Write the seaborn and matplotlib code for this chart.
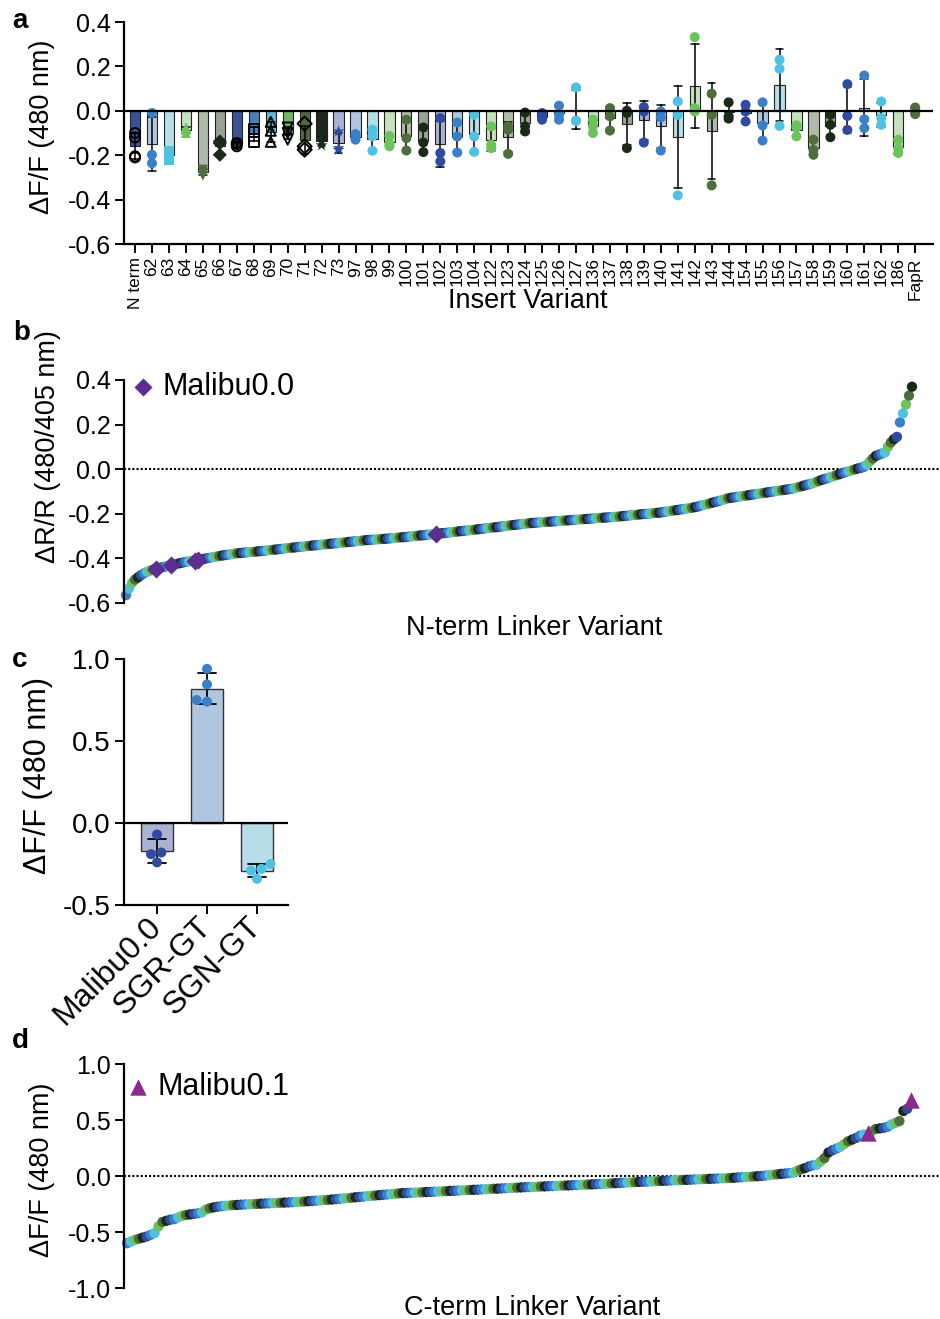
import warnings
import numpy as np
import pandas as pd
import matplotlib.pyplot as plt
from matplotlib.ticker import FormatStrFormatter
import seaborn as sns

warnings.filterwarnings("ignore")

# ---------------------------------------------------------------- data

# panel a: insertion site screen, 3 replicates each (N term has a 4th)
variants = ["N term", "62", "63", "64", "65", "66", "67", "68", "69", "70",
            "71", "72", "73", "97", "98", "99", "100", "101", "102", "103",
            "104", "122", "123", "124", "125", "126", "127", "136", "137",
            "138", "139", "140", "141", "142", "143", "144", "154", "155",
            "156", "157", "158", "159", "160", "161", "162", "186", "FapR"]
rep1 = [-0.10, -0.01, -0.18, -0.075, -0.265, -0.138, -0.145, -0.08, -0.05, -0.075,
        -0.058, -0.11, -0.093, -0.105, -0.085, -0.113, -0.04, -0.075, -0.033, -0.053,
        -0.018, -0.07, -0.07, -0.008, -0.01, 0.023, 0.105, -0.04, 0.012,
        0.0, 0.017, -0.003, 0.042, 0.332, 0.077, 0.038, 0.027, 0.038,
        0.23, -0.065, -0.13, -0.018, 0.12, 0.159, 0.042, -0.13, 0.015]
rep2 = [-0.12, -0.198, -0.20, -0.085, -0.275, -0.146, -0.15, -0.095, -0.09, -0.10,
        -0.16, -0.14, -0.168, -0.115, -0.115, -0.149, -0.123, -0.143, -0.19, -0.116,
        -0.116, -0.153, -0.085, -0.07, -0.028, -0.018, -0.045, -0.07, -0.025,
        -0.01, -0.003, -0.03, -0.018, 0.012, -0.018, -0.025, -0.003, -0.066,
        0.189, -0.075, -0.176, -0.063, -0.023, -0.038, -0.033, -0.17, 0.0]
rep3 = [-0.205, -0.236, -0.22, -0.10, -0.292, -0.198, -0.16, -0.14, -0.14, -0.13,
        -0.175, -0.155, -0.176, -0.13, -0.18, -0.16, -0.179, -0.186, -0.228, -0.188,
        -0.185, -0.168, -0.194, -0.093, -0.04, -0.04, -0.045, -0.10, -0.089,
        -0.168, -0.143, -0.179, -0.381, -0.003, -0.336, -0.035, -0.048, -0.134,
        -0.068, -0.115, -0.198, -0.119, -0.086, -0.078, -0.063, -0.19, -0.015]
extra_variants = ["N term"]
extra_values = [-0.21]

# panel b: N-term linker library, ratio response
nterm_variants = [
    -0.565, -0.535, -0.51, -0.495, -0.485, -0.475, -0.467, -0.46, -0.455, -0.45,
    -0.443, -0.44, -0.437, -0.433,
    -0.427, -0.424, -0.421, -0.418, -0.415, -0.413, -0.411,
    -0.405, -0.402, -0.399, -0.397, -0.394, -0.392, -0.389, -0.387, -0.385, -0.383, -0.381,
    -0.378, -0.377, -0.376, -0.374, -0.373, -0.372, -0.371, -0.37, -0.368, -0.367, -0.366, -0.364,
    -0.363, -0.361, -0.36, -0.358, -0.357, -0.355, -0.354, -0.352, -0.351, -0.349, -0.348,
    -0.347, -0.345, -0.344, -0.342, -0.341, -0.34, -0.338, -0.337, -0.336, -0.334, -0.333,
    -0.332, -0.33, -0.329, -0.328, -0.326, -0.325, -0.323, -0.322, -0.321, -0.319, -0.318,
    -0.317, -0.316, -0.315, -0.314, -0.313, -0.312, -0.311, -0.31, -0.309, -0.307, -0.306,
    -0.305, -0.304, -0.302, -0.301, -0.3, -0.298, -0.297, -0.296, -0.294, -0.293, -0.292,
    -0.289, -0.287, -0.286, -0.284, -0.283, -0.281, -0.28, -0.278, -0.277, -0.275, -0.274,
    -0.272, -0.271, -0.269, -0.268,
    -0.266, -0.264, -0.263, -0.261, -0.26, -0.258, -0.256, -0.255, -0.253, -0.251, -0.25,
    -0.248, -0.247, -0.245, -0.244, -0.242,
    -0.241, -0.24, -0.239, -0.238, -0.237, -0.236, -0.235, -0.234, -0.233, -0.232, -0.231,
    -0.23, -0.229, -0.228, -0.227, -0.226, -0.225, -0.224, -0.223, -0.222, -0.221, -0.22,
    -0.219, -0.218, -0.217, -0.216, -0.215, -0.214, -0.213, -0.212, -0.21, -0.209, -0.208,
    -0.206, -0.205, -0.204, -0.202, -0.201, -0.2, -0.199, -0.197, -0.196, -0.195, -0.193,
    -0.191, -0.189, -0.187, -0.185, -0.183, -0.181, -0.179, -0.177, -0.175, -0.173, -0.17,
    -0.167, -0.163, -0.16, -0.157, -0.153, -0.149, -0.146, -0.142, -0.138, -0.134, -0.13,
    -0.128, -0.126, -0.124, -0.122, -0.12, -0.118, -0.116, -0.114, -0.112, -0.11, -0.108,
    -0.106, -0.104, -0.102, -0.1, -0.098, -0.096, -0.094, -0.092, -0.09, -0.088, -0.085,
    -0.081, -0.078, -0.074, -0.07, -0.067, -0.063,
    -0.058, -0.053, -0.048, -0.044, -0.04, -0.035,
    -0.031, -0.026, -0.022, -0.017, -0.013,
    -0.009, -0.005, -0.001, 0.003, 0.006, 0.01,
    0.02, 0.035, 0.048, 0.06, 0.065, 0.07, 0.075,
    0.10, 0.12, 0.135, 0.145, 0.21, 0.25, 0.29, 0.33, 0.37]
nterm_malibu0 = [-0.447, -0.43, -0.41, -0.408, -0.29]

# panel c: linker mutants
c_groups = ["Malibu0.0", "SGR-GT", "SGN-GT"]
c_rep1 = [-0.07, 0.94, -0.25]
c_rep2 = [-0.18, 0.845, -0.28]
c_rep3 = [-0.19, 0.75, -0.29]
c_rep4 = [-0.24, 0.74, -0.34]

# panel d: C-term linker library
cterm_variants = [
    -0.60, -0.585, -0.57, -0.56, -0.55, -0.54, -0.525, -0.51, -0.45, -0.41,
    -0.40, -0.39, -0.385, -0.37, -0.355, -0.348, -0.343, -0.338, -0.333, -0.325,
    -0.30, -0.288, -0.28, -0.274, -0.27, -0.266, -0.263, -0.26,
    -0.258, -0.256, -0.254, -0.252, -0.25, -0.249, -0.247, -0.245,
    -0.244, -0.242, -0.241, -0.239, -0.237, -0.236, -0.234, -0.232, -0.23,
    -0.228, -0.225, -0.223, -0.22, -0.218, -0.215, -0.213, -0.21,
    -0.207, -0.204, -0.2, -0.197, -0.194, -0.19, -0.187, -0.184, -0.18,
    -0.177, -0.174, -0.171, -0.168, -0.165, -0.162, -0.158, -0.155,
    -0.153, -0.152, -0.15, -0.148, -0.147, -0.145, -0.143, -0.142, -0.14,
    -0.138, -0.137, -0.135, -0.133, -0.132, -0.13, -0.128, -0.127, -0.125, -0.123, -0.122, -0.12,
    -0.118, -0.116, -0.114, -0.113, -0.111, -0.109, -0.107, -0.105, -0.104, -0.102, -0.10,
    -0.099, -0.097, -0.096, -0.094, -0.093, -0.091, -0.09, -0.088, -0.087, -0.085, -0.084,
    -0.082, -0.081, -0.079, -0.078, -0.076, -0.075,
    -0.073, -0.071, -0.069, -0.068, -0.066, -0.064, -0.062, -0.06, -0.058, -0.057, -0.055,
    -0.053, -0.051, -0.05, -0.048, -0.047, -0.045,
    -0.043, -0.042, -0.04, -0.039, -0.037, -0.036, -0.034, -0.033, -0.031, -0.03, -0.028,
    -0.027, -0.025, -0.024, -0.022, -0.021, -0.02,
    -0.018, -0.016, -0.013, -0.011, -0.009, -0.007, -0.004, -0.002, 0.0,
    0.004, 0.008, 0.012, 0.015, 0.019, 0.022, 0.026, 0.03,
    0.045, 0.058, 0.07, 0.085, 0.095, 0.10, 0.13, 0.16, 0.21,
    0.23, 0.245, 0.26, 0.285, 0.31, 0.325, 0.34, 0.36, 0.37,
    0.40, 0.42, 0.425, 0.43, 0.44, 0.46, 0.475, 0.49, 0.58, 0.60]
cterm_malibu1 = [0.38, 0.68]

# ---------------------------------------------------------------- style

dark_cycle = ["#2f4ba0", "#3a80c8", "#4fc1e3", "#6cc25b", "#4e6e3b", "#1b2a17"]
light_cycle = ["#a3add9", "#a7c6e6", "#afe1f0", "#c4e6b7", "#b0bca7", "#9ba396"]
solid_variants = ["N term", "67", "68", "69", "70", "71", "72"]
point_style = {"N term": ("o", True), "63": ("s", False), "64": ("^", False),
               "65": ("v", False), "66": ("D", False), "67": ("o", True),
               "68": ("s", True), "69": ("^", True), "70": ("v", True),
               "71": ("D", True), "72": ("*", False), "73": ("*", False)}
malibu0_color = "#5b2e91"
malibu1_color = "#8e2a8e"

sns.set_theme(style="ticks")
plt.rcParams["font.family"] = ["Liberation Sans", "DejaVu Sans"]
plt.rcParams["axes.unicode_minus"] = False
plt.rcParams["axes.linewidth"] = 1.6
plt.rcParams["axes.edgecolor"] = "black"
plt.rcParams["text.color"] = "black"
plt.rcParams["axes.labelcolor"] = "black"
for a in ("xtick", "ytick"):
    plt.rcParams[a + ".major.width"] = 1.4
    plt.rcParams[a + ".major.size"] = 6.5
    plt.rcParams[a + ".color"] = "black"
    plt.rcParams[a + ".labelcolor"] = "black"
    plt.rcParams[a + ".major.pad"] = 3

W, H = 940, 1319
fig = plt.figure(figsize=(W / 100, H / 100), dpi=100)


def add_ax(x0, y0, x1, y1):
    return fig.add_axes([x0 / W, 1 - y1 / H, (x1 - x0) / W, (y1 - y0) / H])


def ftext(x, y, s, **kw):
    fig.text(x / W, 1 - y / H, s, color="black", **kw)


# ---------------------------------------------------------------- panel a
ax_a = add_ax(124, 22, 933, 244)
a_df = pd.DataFrame({"variant": variants * 3 + extra_variants,
                     "dff": rep1 + rep2 + rep3 + extra_values})
bar_pal, dot_pal = {}, {}
for i, v in enumerate(variants):
    bar_pal[v] = dark_cycle[i % 6] if v in solid_variants else light_cycle[i % 6]
    dot_pal[v] = dark_cycle[i % 6]

sns.barplot(data=a_df, x="variant", y="dff", order=variants, hue="variant",
            hue_order=variants, palette=bar_pal, errorbar="sd", capsize=0.45,
            width=0.6, edgecolor="#222222", linewidth=0.8,
            err_kws={"color": "black", "linewidth": 1.1}, legend=False, ax=ax_a)

a_df["marker"] = a_df["variant"].map(lambda v: point_style.get(v, ("o", False))[0])
a_df["hollow"] = a_df["variant"].map(lambda v: point_style.get(v, ("o", False))[1])
for (mk, hollow), sub in a_df.groupby(["marker", "hollow"]):
    n0 = len(ax_a.collections)
    sns.stripplot(data=sub, x="variant", y="dff", order=variants, hue="variant",
                  palette=dot_pal, marker=mk, size=9 if mk == "*" else 7.2,
                  jitter=False, legend=False, ax=ax_a)
    if hollow:
        for coll in ax_a.collections[n0:]:
            coll.set_facecolor("none")
            coll.set_edgecolor("black")
            coll.set_linewidth(1.4)

ax_a.axhline(0, color="black", lw=1.6, zorder=3)
ax_a.set_xlim(-0.65, 47.05)
ax_a.set_ylim(-0.6, 0.4)
ax_a.set_yticks([-0.6, -0.4, -0.2, 0.0, 0.2, 0.4])
ax_a.yaxis.set_major_formatter(FormatStrFormatter("%.1f"))
ax_a.tick_params(axis="x", labelrotation=90, labelsize=12.5)
ax_a.tick_params(axis="y", labelsize=18)
ax_a.set_xlabel("")
ax_a.set_ylabel("")
sns.despine(ax=ax_a)

# ---------------------------------------------------------------- sorted screens


def ranked_panel(ax, values, controls, control_label, control_marker,
                 control_color, control_size, xlim, ylim, yticks, fmt):
    df = pd.DataFrame({"resp": values + controls,
                       "construct": ["variant"] * len(values) + [control_label] * len(controls)})
    df = df.sort_values("resp", kind="stable").reset_index(drop=True)
    df["rank"] = np.arange(len(df))
    var = df[df["construct"] == "variant"].copy()
    var["shade"] = ["c%d" % (i % 6) for i in range(len(var))]
    shade_pal = {"c%d" % k: dark_cycle[(k + 1) % 6] for k in range(6)}
    ax.axhline(0, color="black", lw=1.5, ls=(0, (1, 1)), zorder=0.5)
    sns.scatterplot(data=var, x="rank", y="resp", hue="shade", palette=shade_pal,
                    s=55, linewidth=0, legend=False, clip_on=False, ax=ax)
    sns.scatterplot(data=df[df["construct"] == control_label], x="rank", y="resp",
                    marker=control_marker, color=control_color, s=control_size,
                    linewidth=0, label=control_label, clip_on=False, zorder=4, ax=ax)
    ax.set_xlim(*xlim)
    ax.set_ylim(*ylim)
    ax.set_yticks(yticks)
    ax.yaxis.set_major_formatter(FormatStrFormatter(fmt))
    ax.set_xticks([])
    ax.tick_params(axis="y", labelsize=18)
    ax.set_xlabel("")
    ax.set_ylabel("")
    sns.despine(ax=ax, bottom=True)


ax_b = add_ax(124, 380, 940, 603)
ranked_panel(ax_b, nterm_variants, nterm_malibu0, "Malibu0.0", "D", malibu0_color, 85,
             (-0.66, 270.3), (-0.6, 0.4), [-0.6, -0.4, -0.2, 0.0, 0.2, 0.4], "%.1f")
ax_b.legend(loc="center left", bbox_to_anchor=(0.0123, 0.9686), frameon=False,
            fontsize=22, handlelength=0.6, handletextpad=0.33, borderpad=0,
            borderaxespad=0)

ax_d = add_ax(124, 1064, 940, 1288)
ranked_panel(ax_d, cterm_variants, cterm_malibu1, "Malibu0.1", "^", malibu1_color, 140,
             (-0.76, 206.3), (-1.0, 1.0), [-1.0, -0.5, 0.0, 0.5, 1.0], "%.1f")
ax_d.legend(loc="center left", bbox_to_anchor=(0.0061, 0.897), frameon=False,
            fontsize=22, handlelength=0.6, handletextpad=0.33, borderpad=0,
            borderaxespad=0)

# ---------------------------------------------------------------- panel c
ax_c = add_ax(124, 659, 288, 905)
c_df = pd.DataFrame({"construct": c_groups * 4,
                     "dff": c_rep1 + c_rep2 + c_rep3 + c_rep4})
c_bar = dict(zip(c_groups, light_cycle[:3]))
c_dot = dict(zip(c_groups, dark_cycle[:3]))
sns.barplot(data=c_df, x="construct", y="dff", order=c_groups, hue="construct",
            palette=c_bar, errorbar="sd", capsize=0.36, width=0.64,
            edgecolor="#333333", linewidth=1.0,
            err_kws={"color": "black", "linewidth": 1.3}, legend=False, ax=ax_c)
sns.swarmplot(data=c_df, x="construct", y="dff", order=c_groups, hue="construct",
              palette=c_dot, size=7.2, legend=False, ax=ax_c)
ax_c.axhline(0, color="black", lw=1.6, zorder=3)
ax_c.set_xlim(-0.66, 2.62)
ax_c.set_ylim(-0.5, 1.0)
ax_c.set_yticks([-0.5, 0.0, 0.5, 1.0])
ax_c.yaxis.set_major_formatter(FormatStrFormatter("%.1f"))
ax_c.tick_params(axis="y", labelsize=20)
ax_c.tick_params(axis="x", labelsize=23, pad=6)
for lab in ax_c.get_xticklabels():
    lab.set_rotation(45)
    lab.set_ha("right")
    lab.set_va("center")
    lab.set_rotation_mode("anchor")
ax_c.set_xlabel("")
ax_c.set_ylabel("")
sns.despine(ax=ax_c)

# ---------------------------------------------------------------- texts
ftext(42, 127, "ΔF/F (480 nm)", rotation=90, ha="center", va="center", fontsize=19.5)
ftext(48, 447, "ΔR/R (480/405 nm)", rotation=90, ha="center", va="center", fontsize=19.5)
ftext(38, 776, "ΔF/F (480 nm)", rotation=90, ha="center", va="center", fontsize=22)
ftext(42, 1170, "ΔF/F (480 nm)", rotation=90, ha="center", va="center", fontsize=19.5)
ftext(528, 308, "Insert Variant", ha="center", va="baseline", fontsize=19.5)
ftext(534, 635, "N-term Linker Variant", ha="center", va="baseline", fontsize=19.5)
ftext(532, 1315, "C-term Linker Variant", ha="center", va="baseline", fontsize=19.5)
for letter, (lx, ly) in {"a": (12, 28), "b": (13, 340), "c": (12, 667),
                         "d": (12, 1048)}.items():
    ftext(lx, ly, letter, ha="left", va="baseline", fontsize=20, fontweight="bold")

fig.savefig("out.png", dpi=100)
